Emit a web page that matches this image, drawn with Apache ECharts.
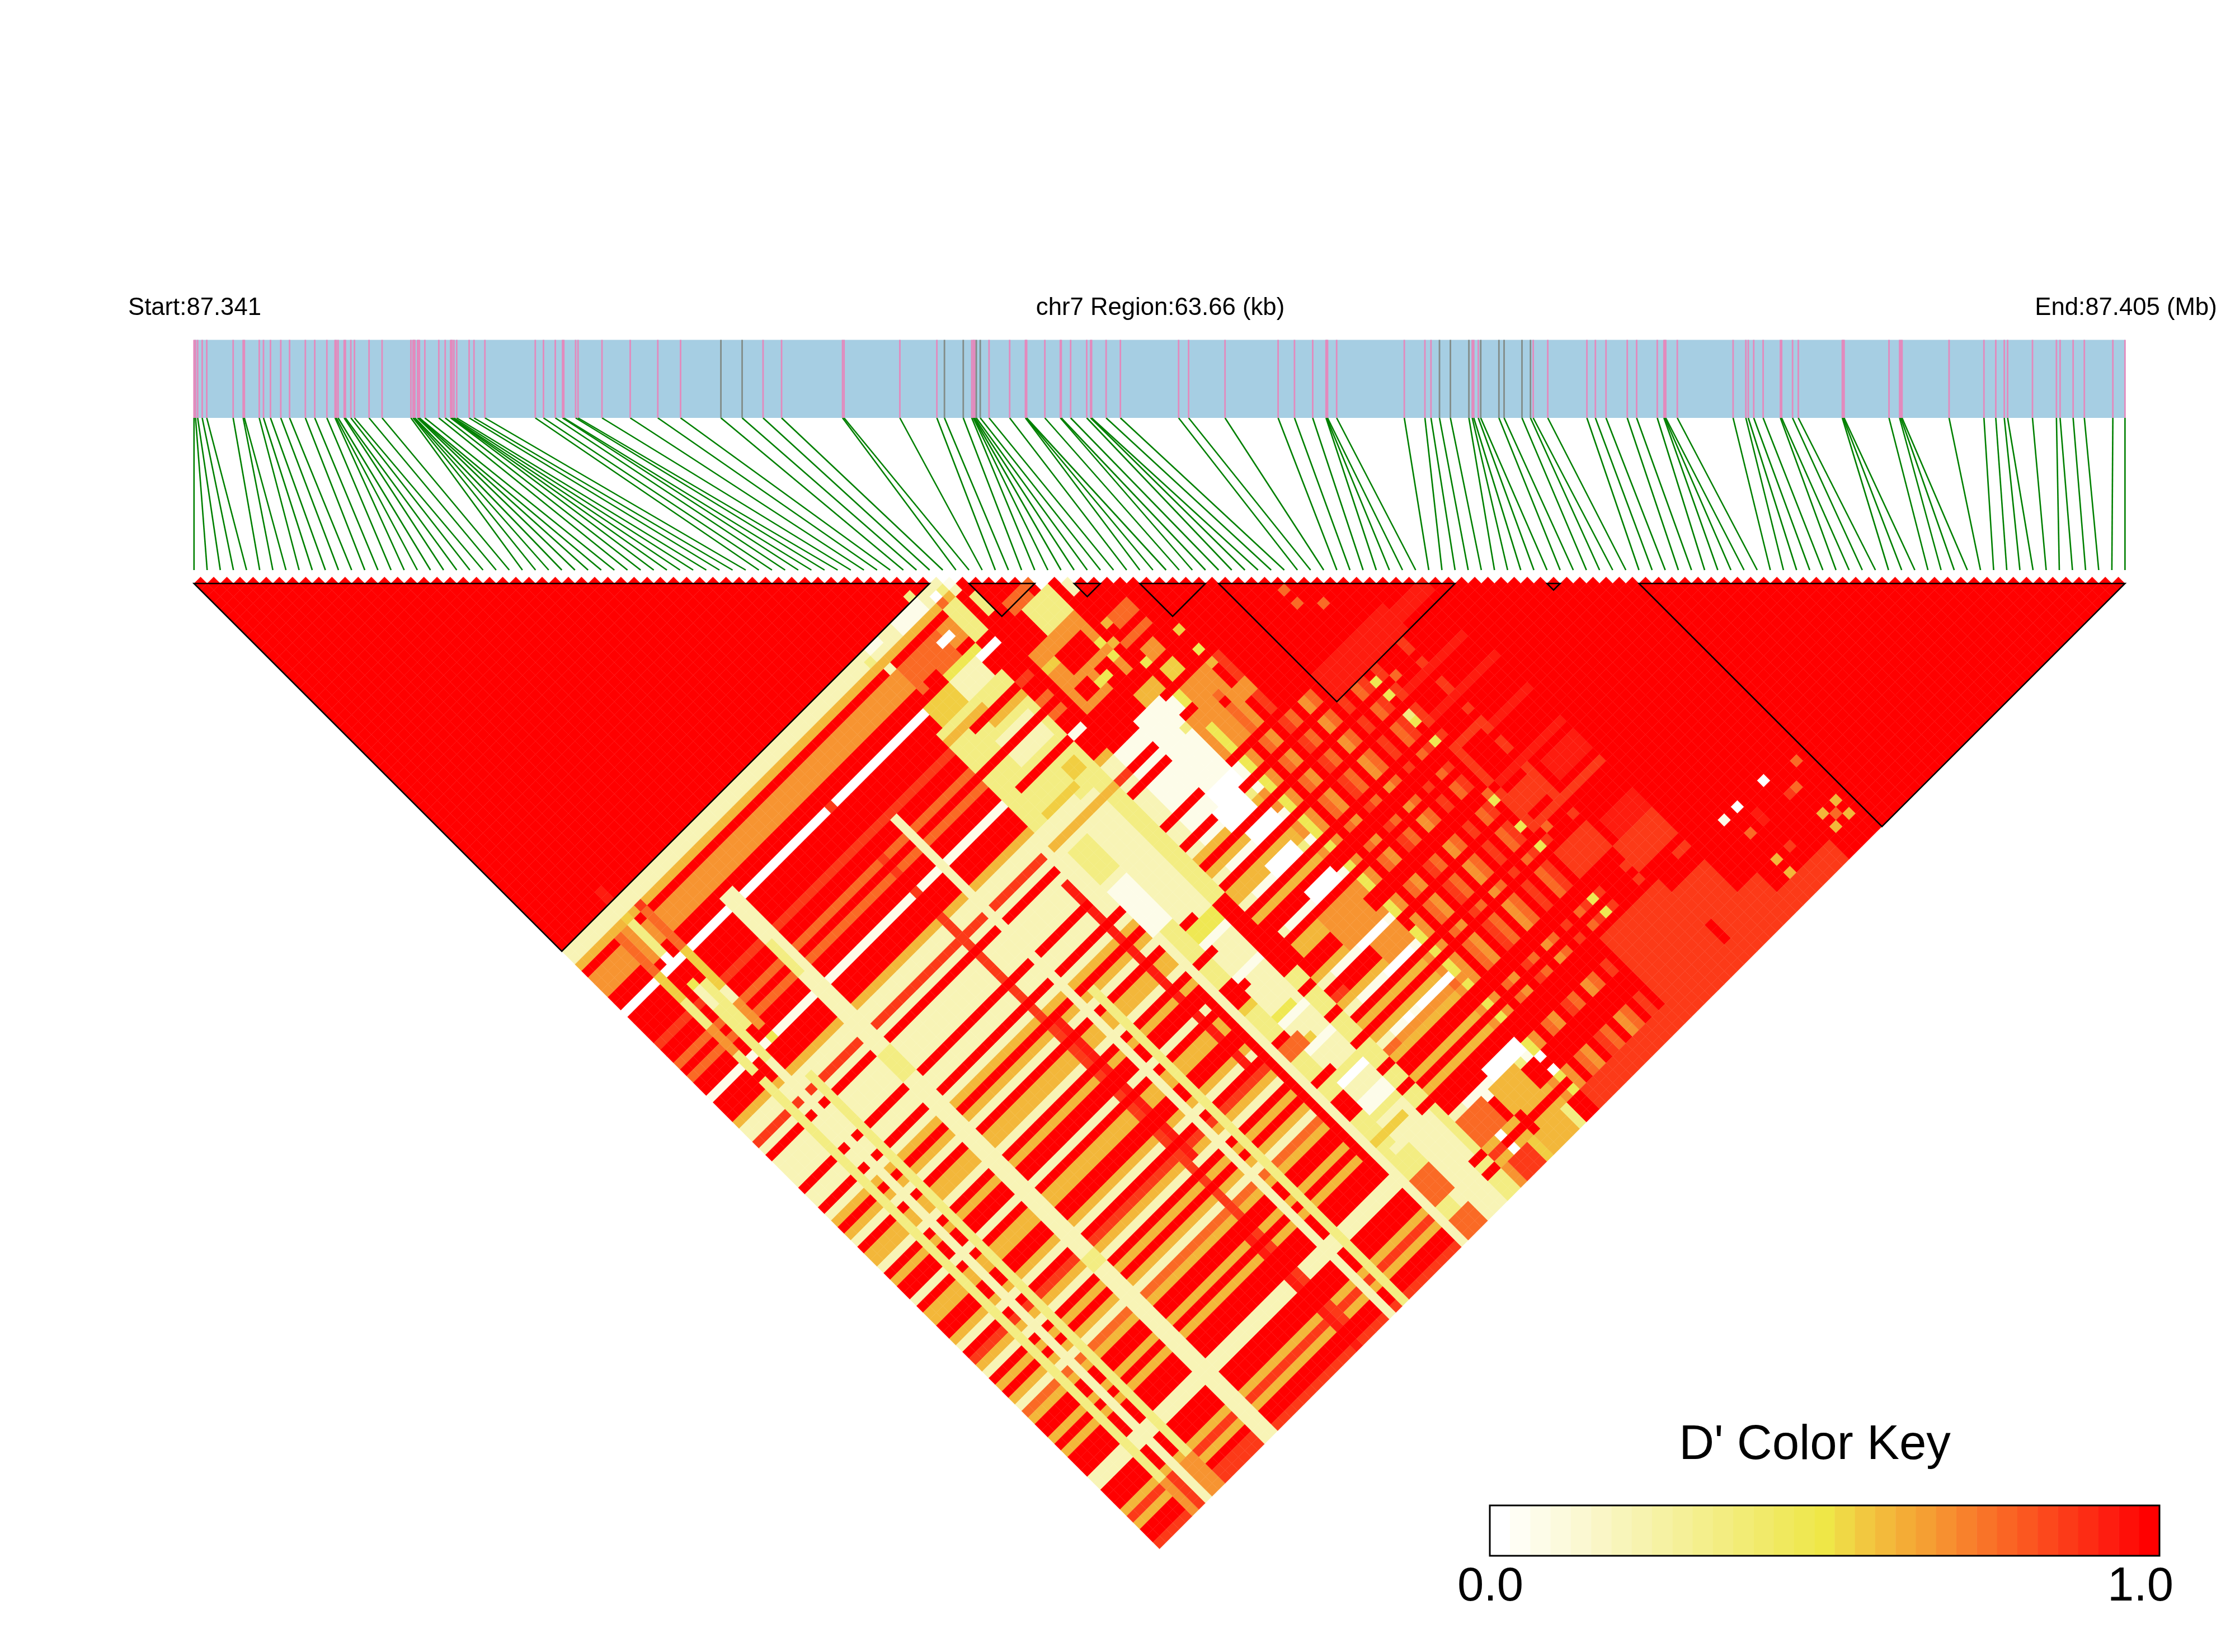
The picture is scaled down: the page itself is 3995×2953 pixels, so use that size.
<!DOCTYPE html>
<html><head><meta charset="utf-8">
<style>html,body{margin:0;padding:0;background:#fff}#c{width:3995px;height:2953px}</style>
<script src="https://cdn.jsdelivr.net/npm/echarts@6/dist/echarts.min.js"></script>
</head><body><div id="c"></div>
<script>
const regionKb = 63.66;
const snpKb = [0.00,0.05,0.12,0.27,0.42,1.29,1.62,1.66,2.15,2.29,2.52,2.86,3.15,3.67,3.98,4.38,4.65,4.69,4.75,4.95,4.99,5.17,5.29,5.77,6.20,7.15,7.22,7.25,7.28,7.37,7.40,7.43,7.61,8.07,8.28,8.46,8.49,8.51,8.57,8.66,9.07,9.23,9.59,11.25,11.52,11.91,12.15,12.19,12.58,12.66,13.45,14.38,15.29,16.04,17.37,18.07,18.76,19.37,21.38,21.43,23.27,24.49,24.74,25.36,25.64,25.69,25.71,25.74,25.79,25.92,26.21,26.89,27.41,27.43,27.45,28.05,28.56,28.59,28.90,29.43,29.56,29.59,30.07,30.54,32.46,32.79,33.99,35.74,36.28,36.88,37.32,37.34,37.37,37.67,39.90,40.58,40.78,41.06,41.42,42.03,42.14,42.19,42.34,42.42,43.02,43.19,43.78,44.06,44.15,44.63,45.92,46.20,46.55,47.25,47.56,48.24,48.46,48.49,48.52,48.90,50.74,51.16,51.24,51.42,51.73,52.30,52.34,52.70,52.89,54.34,54.37,54.40,55.88,56.23,56.27,56.31,57.86,59.01,59.40,59.68,59.79,60.61,61.40,61.52,61.95,62.32,63.26,63.66];
const grayKb = [17.37,18.07,24.74,25.36,25.79,25.92,41.06,41.42,42.03,42.42,43.02,43.19,43.78,44.06];
const ldBlocks = [[0,56],[59,64],[67,69],[72,77],[78,96],[103,104],[110,147]];
const dPrime = {W:0,q:.06,p:.2,l:.34,Y:.47,h:.55,g:.6,m:.68,n:.77,o:.875,r:.94,R:1};
const keyColors = ['#FFFFFF','#FFFEF4','#FDFCE8','#FCFADD','#FBF8D2','#FAF6C6','#F8F5BA','#F7F3AF','#F6F2A3','#F5F098','#F4EF8C','#F3ED81','#F2EC75','#F1EA6A','#F0E95E','#EFE853','#EFE747','#F0D845','#F2C840','#F3BA3B','#F4AC36','#F59F33','#F79030','#F8812C','#F97328','#FA6524','#FB5720','#FC481C','#FC3A18','#FD2C14','#FE1D10','#FE0F08','#FF0000'];
// D' read along the lower-left edge (SNP 0 against SNP 57..147)
const edgeColumns = "ppgRmmmRRW"+"RRRRoRRnRn"+"RRqRRRgppo"+"pRppppRppR"+"pgRgpRggpR"+"gRRpRggRRg"+"pRogpRgRgp"+"ngRRgRgRRR"+"ppRRRgogRRo";
// SNPs 57..65 keep the column pattern with paler whites: [first, last, pale, gold, orange]
const columnFade = [[57,63,'q','g','m'],[64,64,'l','g','m'],[65,65,'q','m','n'],[66,66,'Y','Y','m']];
// SNPs 67..88 only soften where they meet a soft column (first key is SNP 67)
const softRow = "mRnmRonRmnRoRnoRoRRRoR".split('');
const softRowFirst = 67;
// stripes that only show on non-red columns
const softStripes = [[31,31,64,147,'o'],[30,30,130,147,'r'],[32,32,100,120,'r'],[43,43,90,118,'r']];
// rectangles in SNP-pair space: [i from, i to, j from, j to, code]
const patches = [
[5,5,82,142,'l'],[7,7,70,147,'p'],[9,9,85,142,'l'],[16,17,65,147,'p'],[16,17,89,92,'l'],[16,16,72,76,'l'],[16,17,120,121,'l'],
[35,35,72,147,'p'],[37,37,100,147,'l'],[45,45,110,135,'R'],[46,46,100,147,'p'],[47,48,85,147,'l'],[49,52,85,147,'p'],[53,54,85,147,'l'],
[5,5,143,147,'m'],[6,6,143,147,'o'],[8,9,143,147,'m'],[10,15,146,147,'o'],
// cuts through the pale band
[47,49,106,106,'R'],[47,49,111,111,'R'],[47,48,118,118,'R'],[47,49,124,124,'R'],[47,48,129,129,'R'],[49,50,102,102,'R'],[49,52,103,104,'Y'],[47,48,112,113,'h'],[49,51,116,116,'Y'],[47,50,120,120,'h'],[49,52,125,125,'l'],[49,52,131,131,'l'],[47,51,133,133,'h'],
[49,52,105,105,'q'],[49,52,110,110,'q'],[49,52,117,117,'q'],[49,52,121,121,'q'],[49,52,126,126,'W'],
[53,54,103,113,'R'],[53,55,110,113,'R'],[53,54,116,116,'R'],[53,54,120,120,'R'],[53,54,124,124,'R'],[53,54,128,128,'R'],[53,54,131,131,'R'],[53,54,134,134,'R'],
[53,54,142,142,'R'],[53,54,144,144,'R'],[57,57,142,142,'W'],[57,57,144,144,'W'],[60,60,142,142,'R'],[60,60,144,144,'R'],[66,66,139,139,'W'],[66,66,141,141,'W'],[58,58,135,135,'W'],[59,59,126,126,'W'],[66,66,135,135,'W'],
// near-block detail on the lower left
[7,7,55,56,'r'],[53,53,56,56,'l'],[57,57,58,58,'q'],[56,56,58,58,'l'],[55,55,58,58,'W'],[55,55,59,59,'n'],[57,57,59,59,'p'],
[50,53,57,58,'q'],[46,47,57,57,'q'],[45,45,58,58,'l'],[46,46,60,60,'p'],[8,8,58,58,'p'],[9,9,59,59,'o'],[6,6,58,58,'p'],[7,7,59,59,'h'],
[9,9,60,65,'n'],[7,7,60,64,'l'],[7,7,65,66,'W'],[6,6,60,64,'m'],[5,5,60,65,'n'],[9,9,66,69,'h'],[5,5,66,69,'h'],[7,7,69,69,'Y'],
[5,5,70,75,'l'],[8,8,70,76,'l'],[9,9,70,72,'h'],[9,9,72,73,'p'],[7,7,73,80,'l'],[5,5,74,78,'m'],[9,9,74,77,'m'],[5,5,78,80,'l'],[9,9,79,79,'Y'],
[47,52,61,64,'n'],[55,56,60,64,'l'],[52,53,62,62,'W'],[50,54,65,65,'Y'],[48,49,64,66,'R'],[49,53,66,68,'p'],[46,49,66,69,'h'],
[58,58,61,63,'l'],[60,63,64,64,'n'],[64,64,65,65,'W'],[61,64,66,69,'l'],[60,62,65,65,'n'],[66,66,67,68,'p'],
// pale yellow centre, crossed by red columns
[45,54,69,84,'l'],[49,53,74,77,'p'],[49,53,78,82,'l'],[52,53,81,82,'h'],[44,50,84,93,'p'],[46,48,88,92,'l'],[46,48,94,100,'q'],
[45,54,75,75,'R'],[47,54,79,79,'R'],[45,50,70,70,'g'],[50,54,72,72,'g'],[47,51,83,83,'h'],[45,54,86,86,'g'],[48,54,71,71,'R'],
[47,48,110,112,'R'],[49,52,115,115,'p'],[47,49,119,120,'n'],[47,48,127,129,'R'],[49,52,129,130,'q'],[48,53,135,141,'p'],[48,49,136,138,'l'],[47,49,139,142,'n'],[47,49,145,147,'n'],
[50,52,145,147,'p'],[53,54,145,147,'l'],[55,55,145,147,'m'],[56,58,145,147,'o'],[59,59,145,147,'h'],[60,63,145,147,'g'],[64,64,145,147,'l'],
// column of whites and its neighbours
[61,64,83,86,'q'],[61,64,88,93,'q'],[61,64,94,95,'W'],[60,63,96,98,'W'],[61,64,100,101,'W'],[60,63,104,105,'W'],[61,64,109,110,'W'],
[60,64,112,116,'m'],[61,64,117,117,'W'],[62,65,118,120,'m'],[61,64,121,121,'W'],[61,65,126,126,'W'],[61,65,136,137,'W'],
[60,63,138,141,'g'],[55,58,138,141,'n'],[55,66,134,135,'R'],
[65,68,87,92,'m'],[66,66,89,92,'Y'],[63,65,81,82,'g'],[67,68,81,82,'h'],[68,70,84,86,'m'],[70,72,88,89,'m'],
[58,64,70,78,'m'],[60,63,72,74,'R'],[62,63,76,78,'R'],[64,64,74,74,'Y'],[64,64,76,76,'Y'],[61,62,77,77,'Y'],[59,60,76,77,'R'],[58,59,72,72,'h'],
[65,65,75,75,'g'],[66,66,73,73,'g'],[67,69,73,74,'n'],[66,69,76,76,'n'],[66,66,79,79,'Y'],[67,68,78,79,'m'],
[71,71,79,79,'h'],[71,71,82,82,'Y'],[71,71,84,84,'g'],[66,66,112,112,'Y'],[66,66,116,117,'Y'],[66,66,123,123,'Y'],[66,66,126,126,'Y'],[66,66,128,128,'Y'],[66,66,131,131,'Y'],[66,66,133,133,'Y'],
// the stretch near the top of the upper right stays red
[73,88,84,92,'R'],[78,88,93,96,'r'],
// scattered spots in the red upper right
[82,82,84,84,'n'],[82,82,86,86,'n'],[84,84,88,88,'n'],[82,82,98,98,'Y'],[82,82,100,100,'Y'],[84,84,99,99,'n'],[82,82,103,103,'l'],[82,82,104,104,'Y'],[82,82,107,107,'Y'],[82,82,115,115,'n'],[82,82,116,116,'Y'],[82,82,120,120,'Y'],[82,82,123,123,'Y'],[82,82,131,131,'Y'],[82,82,133,133,'Y'],
[104,104,135,135,'W'],[100,100,135,135,'W'],[98,98,135,135,'q'],
[108,108,142,142,'g'],[106,106,142,142,'g'],[108,108,144,144,'g'],[106,106,144,144,'g'],[99,99,142,142,'g'],[99,99,144,144,'g'],[96,96,142,142,'g'],[96,96,144,144,'g'],[107,107,143,143,'n'],
[89,93,94,95,'r'],[88,92,101,101,'r'],[88,93,105,105,'r'],[84,88,101,101,'r'],[84,88,105,105,'r'],[88,93,110,110,'r'],[83,87,109,109,'o'],[88,93,115,115,'r'],[89,93,117,119,'r'],[88,93,121,121,'o'],
[83,83,111,114,'o'],[84,87,115,115,'r'],[84,87,117,119,'o'],[83,83,117,120,'o'],[84,87,121,121,'o'],[84,84,122,122,'n'],[84,87,125,128,'o'],[89,93,126,128,'r'],[88,93,129,132,'o'],[89,93,137,141,'o'],[92,93,134,134,'o'],
[101,101,142,142,'o'],[99,99,138,138,'n'],[101,101,137,138,'r'],[106,106,138,138,'n'],[105,105,138,138,'o'],[108,108,136,136,'n'],
[67,104,145,147,'o'],[90,96,142,147,'o'],[80,88,135,147,'o']
];
const keySteps = keyColors.map((c,k)=>k);

// assemble the pair table
const n = snpKb.length;
const pairs = [];
for (let j=1;j<n;j++){
  for (let i=0;i<j;i++){
    let code='R';
    if (j>=57){
      const e=edgeColumns[j-57];
      if (i<=56) code=e;
      else {
        const f=columnFade.find(b=>i>=b[0]&&i<=b[1]);
        if (j>=84){
          if (f){
            if ('pqW'.includes(e)) code=f[2];
            else if ('gh'.includes(e)) code=f[3];
            else if ('mn'.includes(e)) code=f[4];
          } else if (i>=softRowFirst && i<softRowFirst+softRow.length && 'pqWghmno'.includes(e)) {
            code=softRow[i-softRowFirst];
          }
        }
      }
    }
    for (const p of softStripes){ if(code!=='R'&&i>=p[0]&&i<=p[1]&&j>=p[2]&&j<=p[3]) code=p[4]; }
    for (const p of patches){ if(i>=p[0]&&i<=p[1]&&j>=p[2]&&j<=p[3]) code=p[4]; }
    pairs.push([(i+j)/2,(j-i-1)/2,dPrime[code]]);
  }
}
const cellW = 3451.56/147;
const chart = echarts.init(document.getElementById('c'),null,{renderer:'canvas'});
const hidden = {show:false};
function hiddenAxis(o){return Object.assign({axisLine:hidden,axisTick:hidden,axisLabel:hidden,splitLine:hidden},o);}
const txt = (t,x,y,s)=>({type:'text',x:x,y:y,silent:true,style:{text:t,x:0,y:0,fill:'#000',font:s+'px "Liberation Sans"',textAlign:'center',textVerticalAlign:'middle'}});
chart.setOption({
  animation:false,backgroundColor:'#fff',
  grid:[
    {left:346.8,width:3451.56,top:1043-cellW/2,height:74*cellW},
    {left:346.8,width:3451.56,top:607.5,height:139.5},
    {left:346.8,width:3451.56,top:747,height:272},
    {left:2663,width:1197,top:2691,height:90}
  ],
  xAxis:[
    hiddenAxis({gridIndex:0,type:'value',min:0,max:147}),
    hiddenAxis({gridIndex:1,type:'value',min:0,max:regionKb}),
    hiddenAxis({gridIndex:2,type:'value',min:0,max:regionKb}),
    hiddenAxis({gridIndex:3,type:'category',data:keySteps})
  ],
  yAxis:[
    hiddenAxis({gridIndex:0,type:'value',min:-0.5,max:73.5,inverse:true}),
    hiddenAxis({gridIndex:1,type:'value',min:0,max:1}),
    hiddenAxis({gridIndex:2,type:'value',min:0,max:1,inverse:true}),
    hiddenAxis({gridIndex:3,type:'category',data:['key']})
  ],
  visualMap:[{show:false,type:'continuous',min:0,max:1,dimension:2,seriesIndex:[0,5],inRange:{color:keyColors}}],
  series:[
    {type:'custom',name:'D prime',xAxisIndex:0,yAxisIndex:0,clip:false,progressive:0,silent:true,data:pairs,encode:{x:0,y:1},
      renderItem:(p,api)=>{
        const s=api.value(0),u=api.value(1),c=api.visual('color');
        return {type:'polygon',shape:{points:[api.coord([s-.5,u]),api.coord([s,u-.5]),api.coord([s+.5,u]),api.coord([s,u+.5])]},style:{fill:c,stroke:c,lineWidth:.4}};
      }},
    {type:'custom',name:'blocks',xAxisIndex:0,yAxisIndex:0,clip:false,silent:true,data:ldBlocks,encode:{x:0},z:5,
      renderItem:(p,api)=>{
        const a=api.value(0),b=api.value(1);
        return {type:'polygon',shape:{points:[api.coord([a,0]),api.coord([(a+b)/2,(b-a)/2]),api.coord([b,0])]},style:{fill:'none',stroke:'#000',lineWidth:2.5}};
      }},
    {type:'custom',name:'region',xAxisIndex:1,yAxisIndex:1,silent:true,clip:false,data:[[0,regionKb]],encode:{x:[0,1]},
      renderItem:(p,api)=>{
        const a=api.coord([api.value(0),1]),b=api.coord([api.value(1),0]);
        return {type:'rect',shape:{x:a[0],y:a[1],width:b[0]-a[0],height:b[1]-a[1]},style:{fill:'#A6CEE3'}};
      }},
    {type:'custom',name:'SNP marks',xAxisIndex:1,yAxisIndex:1,silent:true,clip:false,data:snpKb.map(k=>[k]),encode:{x:0},z:3,
      renderItem:(p,api)=>{
        const k=api.value(0),a=api.coord([k,1]),b=api.coord([k,0]);
        return {type:'line',shape:{x1:a[0],y1:a[1],x2:b[0],y2:b[1]},style:{stroke:grayKb.includes(k)?'#828C88':'#E38ABD',lineWidth:2.8}};
      }},
    {type:'custom',name:'SNP links',xAxisIndex:2,yAxisIndex:2,silent:true,clip:false,data:snpKb.map((k,i)=>[k,i*regionKb/(n-1)]),encode:{x:[0,1]},
      renderItem:(p,api)=>{
        const a=api.coord([api.value(0),0]),b=api.coord([api.value(1),1]);
        return {type:'line',shape:{x1:a[0],y1:a[1],x2:b[0],y2:b[1]},style:{stroke:'#008000',lineWidth:2.6}};
      }},
    {type:'heatmap',name:'key',xAxisIndex:3,yAxisIndex:3,silent:true,data:keySteps.map(k=>[k,0,k/32]),progressive:0},
    {type:'custom',name:'key frame',xAxisIndex:3,yAxisIndex:3,silent:true,clip:false,z:6,data:[[0,0]],encode:{x:0,y:1},
      renderItem:(p)=>({type:'rect',shape:{x:p.coordSys.x,y:p.coordSys.y,width:p.coordSys.width,height:p.coordSys.height},style:{fill:'none',stroke:'#000',lineWidth:3}})}
  ],
  graphic:[
    txt('Start:87.341',348,551,43.7),
    txt('chr7 Region:63.66 (kb)',2074,551,43.7),
    txt('End:87.405 (Mb)',3800,551,43.7),
    txt("D' Color Key",3244,2584,87),
    txt('0.0',2664,2838,85),
    txt('1.0',3826,2838,85)
  ]
});
console.log('snps',n);
</script></body></html>
